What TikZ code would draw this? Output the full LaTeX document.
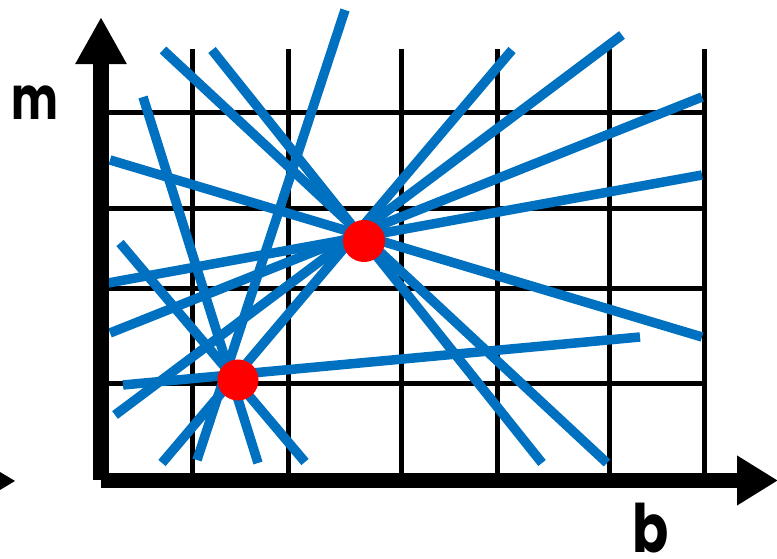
\documentclass[tikz,border=0pt]{standalone}
\usepackage{fontspec}
\setmainfont{Poppins}
\usetikzlibrary{arrows.meta}
\definecolor{lineblue}{RGB}{0,112,192}
\tikzset{
  gridline/.style={line width=0.05cm},
  houghline/.style={line width=0.095cm,lineblue},
  axisline/.style={line width=0.16cm},
  axislabel/.style={anchor=base,inner sep=0pt}
}
\begin{document}
\begin{tikzpicture}[x=0.01cm,y=-0.01cm]
    \useasboundingbox (0,0) rectangle (777,559);
    % grid
    \foreach \xx in {192,288,401,497,609,704}{%
      \draw[gridline] (\xx,49) -- (\xx,475);}
    \foreach \yy in {113,209,289,384}{%
      \draw[gridline] (109,\yy) -- (706.5,\yy);}
    % lines in parameter space
    \foreach \xa/\ya/\xb/\yb in {163/50/607/463, 212/50/542/463, 345/10/197/460,
        143/97/258/463, 120/243/305/462, 123/385/640/337, 115/415/622/35,
        162/463/512/50, 110/160/702/337, 108/283/702/175, 110/333/702/97}{%
      \draw[houghline] (\xa,\ya) -- (\xb,\yb);}
    % intersections
    \fill[red] (364,241) circle (0.21cm);
    \fill[red] (238,380) circle (0.205cm);
    % axes
    \draw[axisline,-{Triangle[length=0.47cm,width=0.48cm]}] (101,480) -- (101,17);
    \draw[axisline,line width=0.15cm,-{Triangle[length=0.41cm,width=0.47cm]}] (101,480.5) -- (778,480.5);
    \fill (-25,457) -- (15,481) -- (-25,505) -- cycle;
    \node[axislabel] (mlabel) at (35,120) {\scalebox{0.74}[1]{\fontsize{17}{20}\selectfont\bfseries m}};
    \node[axislabel] (blabel) at (651,552) {\scalebox{0.8}[1]{\fontsize{19}{22}\selectfont\bfseries b}};
  \end{tikzpicture}
\end{document}
